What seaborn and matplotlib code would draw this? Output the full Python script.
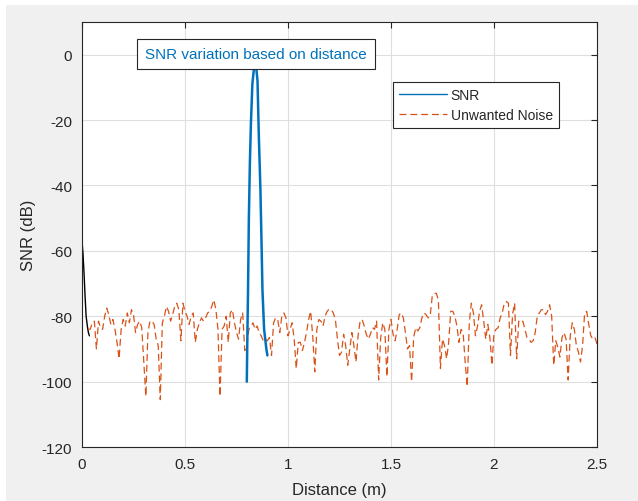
import numpy as np
import matplotlib
matplotlib.use("Agg")
import matplotlib.pyplot as plt
import seaborn as sns
from matplotlib.lines import Line2D
from matplotlib.patches import Rectangle

# SNR peak (blue)
snr_x = [0.800, 0.803, 0.806, 0.810, 0.815, 0.820, 0.827, 0.835, 0.845,
         0.852, 0.858, 0.866, 0.871, 0.876, 0.884, 0.895, 0.900]
snr_y = [-100, -85, -72, -50, -33, -21, -9, -4, -3.5,
         -8, -24, -41, -56, -72, -84, -90, -92]

# short black segment at the start
start_x = [0.0, 0.005, 0.010, 0.015, 0.020, 0.026, 0.031, 0.036]
start_y = [-57, -61, -67, -74, -80, -83, -85, -86]

# unwanted noise, one value every 0.01 m from 0.03 to 2.50
noise_y = [
    -84, -84, -82, -81.5, -90, -81.5, -83.5, -84, -80, -77.5,
    -79.5, -82.5, -81, -84, -88, -93, -84, -81, -83, -79,
    -82, -78, -79.5, -85, -82.5, -81.5, -83.5, -94, -104.5, -85,
    -81.5, -81.5, -82.5, -87, -89, -105.5, -82, -80, -77, -78.5,
    -81.5, -79.5, -77, -76, -78, -87.5, -76, -78.5,
    # 0.51 - 1.00
    -80, -82.5, -80, -79, -88, -84, -82, -80.5, -81.5, -80.5,
    -79, -78.5, -77, -75, -78, -84, -104.5, -84, -83, -80,
    -88, -79, -78, -82, -85, -87, -81, -79, -90.5, -89,
    -84, -83, -82, -84, -83, -85, -86, -87.5, -87, -87.5,
    -86.5, -92, -82, -80.5, -81, -85, -80, -79, -80.5, -86,
    # 1.01 - 1.50
    -84, -82, -87, -96, -88, -88, -90.5, -88, -85, -81,
    -78.5, -86, -97, -84, -81, -81.5, -83, -80, -78.5, -77.8,
    -78, -79, -81, -87, -92, -91, -85.5, -89, -95, -90,
    -85, -89, -94, -86, -81.5, -81, -83, -85.5, -87, -85.5,
    -83.5, -84, -81.5, -99.5, -86.5, -82, -84, -98.5, -84, -81,
    # 1.51 - 2.00
    -85.5, -87.5, -84, -79.5, -79, -80.5, -85, -90, -89, -100,
    -86.5, -83.5, -84.5, -83.5, -80.5, -79, -79.5, -80.5, -80, -74,
    -73, -73, -75, -96, -87, -89, -93, -88, -78.5, -78.5,
    -80, -83, -88, -84, -85, -94, -101.5, -82, -76, -79,
    -86, -83, -78.5, -76.5, -81.5, -87, -82.5, -86.5, -95, -85,
    # 2.01 - 2.50
    -84, -83.5, -80.5, -79, -76, -75.5, -76, -92, -79.5, -76,
    -93, -81.5, -82, -81.5, -84, -86.5, -87, -88, -87.5, -85,
    -80, -79, -78, -78, -79.5, -78.5, -76.5, -80, -95, -87.5,
    -89.5, -92.5, -86.5, -85, -87, -99.5, -86, -82, -84, -89,
    -91, -94, -89, -79, -78.5, -82.5, -86, -87, -86.5, -88.5,
]
noise_x = np.round(np.linspace(0.03, 2.50, len(noise_y)), 3)

x_ticks = [0, 0.5, 1, 1.5, 2, 2.5]
y_ticks = [-120, -100, -80, -60, -40, -20, 0]

blue = "#0072BD"
orange = "#D95319"
dark = "#262626"

sns.set_theme(style="whitegrid")
plt.rcParams["font.family"] = ["Liberation Sans", "DejaVu Sans"]
plt.rcParams["axes.unicode_minus"] = False
plt.rcParams["lines.scale_dashes"] = False

fig = plt.figure(figsize=(6.38, 5.02), dpi=100, facecolor="white")
# grey window background, thin white strip on top/left like the screenshot
fig.patches.append(Rectangle((6 / 638, 0), 1, 1 - 6 / 502, transform=fig.transFigure,
                             facecolor="#f0f0f0", edgecolor="none", zorder=-10))
ax = fig.add_axes([82 / 638, 54 / 502, 515 / 638, 425 / 502])
ax.set_zorder(1)
ax.set_facecolor("white")

sns.lineplot(x=start_x, y=start_y, ax=ax, color="black", lw=1.0,
             estimator=None, sort=False)
sns.lineplot(x=noise_x, y=noise_y, ax=ax, color=orange, lw=0.9,
             estimator=None, sort=False)
ax.lines[-1].set_linestyle((0, (5.0, 2.8)))
sns.lineplot(x=snr_x, y=snr_y, ax=ax, color=blue, lw=1.8,
             estimator=None, sort=False)

ax.set_xlim(0, 2.5)
ax.set_ylim(-120, 10)
ax.set_xticks(x_ticks)
ax.set_xticklabels(["0", "0.5", "1", "1.5", "2", "2.5"])
ax.set_yticks(y_ticks)
ax.set_yticklabels([str(v) for v in y_ticks])
ax.grid(True, color="#dedede", lw=0.8)
for s in ax.spines.values():
    s.set_visible(True)
    s.set_color(dark)
    s.set_linewidth(0.8)
ax.tick_params(direction="in", length=4, width=0.8, color=dark,
               top=True, right=True, labelsize=11, labelcolor=dark)
ax.tick_params(axis="x", pad=7)
ax.tick_params(axis="y", pad=7)

ax.set_xlabel("Distance (m)", fontsize=12, color=dark, labelpad=8)
ax.set_ylabel("SNR (dB)", fontsize=12, color=dark, labelpad=4)

ax.text(0.845, 0.2, "SNR variation based on distance", color=blue, fontsize=11,
        ha="center", va="center", zorder=5,
        bbox=dict(boxstyle="square,pad=0.55", facecolor="white",
                  edgecolor=dark, lw=0.8))

handles = [Line2D([], [], color=blue, lw=1.0),
           Line2D([], [], color=orange, lw=0.9, ls=(0, (5.0, 2.8)))]
leg = ax.legend(handles, ["SNR", "Unwanted Noise"], loc="upper left",
                bbox_to_anchor=(0.604, 0.86), fontsize=10, handlelength=3.4,
                frameon=True, fancybox=False, framealpha=1, borderaxespad=0,
                handletextpad=0.3, labelspacing=0.45, borderpad=0.45)
leg.get_frame().set_edgecolor(dark)
leg.get_frame().set_linewidth(0.8)

fig.savefig("out.png", dpi=100, facecolor=fig.get_facecolor())
